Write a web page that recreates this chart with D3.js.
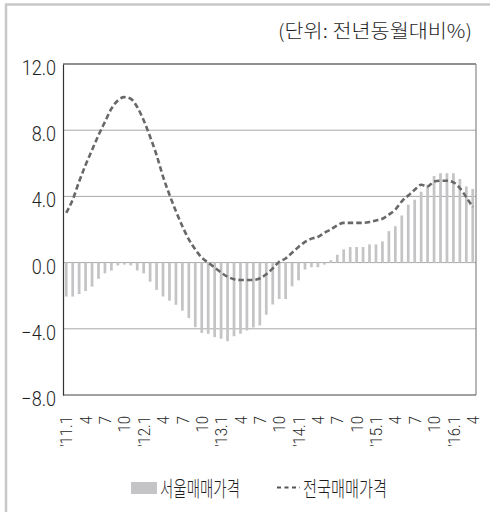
<!DOCTYPE html>
<html>
<head>
<meta charset="utf-8">
<script src="https://cdn.jsdelivr.net/npm/d3@7"></script>
<style>
  html, body { margin: 0; padding: 0; background: #fff; }
  svg { display: block; }
  .num { font-family: Roboto, "Liberation Sans Narrow", "DejaVu Sans Condensed", sans-serif; font-weight: 300; fill: #1e1e1e; }
  .kor { font-family: "Noto Sans CJK KR", "Noto Sans", sans-serif; font-weight: 300; fill: #1e1e1e; }
</style>
</head>
<body>
<svg id="chart" width="490" height="512"></svg>
<script>
// Monthly categories, Jan 2011 .. Apr 2016
const years = ["11", "12", "13", "14", "15", "16"];
const categories = years.flatMap(y => d3.range(1, 13).map(m => `'${y}.${m}`)).slice(0, 64);

// Seoul apartment sale price, YoY change (%)
const seoul = [
  -2.05, -2.05, -1.9, -1.72, -1.45, -0.98, -0.65, -0.48, -0.17, -0.12, -0.17, -0.48,
  -0.65, -1.15, -1.65, -2.05, -2.3, -2.55, -2.9, -3.35, -3.9, -4.25, -4.3, -4.5,
  -4.6, -4.75, -4.45, -4.3, -4.1, -3.92, -3.8, -3.15, -2.53, -2.2, -2.2, -1.43,
  -1.07, -0.42, -0.28, -0.28, -0.12, 0.14, 0.47, 0.8, 0.94, 0.94, 0.94, 1.1,
  1.1, 1.28, 1.9, 2.2, 2.85, 3.5, 3.8, 4.28, 4.7, 5.23, 5.4, 5.4,
  5.4, 5.05, 4.6, 4.45
];

// Nationwide apartment sale price, YoY change (%)
const nation = [
  3.0, 3.8, 4.9, 5.9, 6.8, 7.7, 8.5, 9.3, 9.8, 10.0, 9.9, 9.4,
  8.6, 7.6, 6.5, 5.2, 4.1, 3.1, 2.2, 1.4, 0.8, 0.3, 0.0, -0.3,
  -0.6, -0.85, -1.0, -1.05, -1.05, -1.05, -0.95, -0.7, -0.35, 0.05, 0.25, 0.6,
  0.95, 1.25, 1.45, 1.55, 1.8, 2.0, 2.25, 2.4, 2.4, 2.4, 2.4, 2.45,
  2.55, 2.65, 2.9, 3.2, 3.7, 4.05, 4.4, 4.7, 4.6, 4.9, 4.95, 4.95,
  4.85, 4.5, 3.95, 3.35
];

const yTicks = [-8, -4, 0, 4, 8, 12];
const gridValues = [-4, 0, 4, 8];
const xTickLabels = [
  "'11.1", "4", "7", "10", "'12.1", "4", "7", "10", "'13.1", "4", "7", "10",
  "'14.1", "4", "7", "10", "'15.1", "4", "7", "10", "'16.1", "4"
];
const unitLabel = "(단위: 전년동월대비%)";
const seriesNames = ["서울매매가격", "전국매매가격"];

const svg = d3.select("#chart");
const W = 490, H = 512;
const m = { left: 63, top: 64, right: 14, bottom: 117 };
const x0 = m.left, x1 = W - m.right, y0 = m.top, y1 = H - m.bottom;

const x = d3.scaleBand().domain(categories).range([x0, x1]).padding(0);
const y = d3.scaleLinear().domain([-8, 12]).range([y1, y0]);
const cx = d => x(d) + x.bandwidth() / 2;

// outer frame (left and top edges)
svg.append("path")
  .attr("d", `M6,${H} L6,4.5 L${W},4.5`)
  .attr("fill", "none").attr("stroke", "#c8c8c8").attr("stroke-width", 2.5);

// unit caption
svg.append("text").attr("class", "kor")
  .attr("x", 472).attr("y", 38)
  .attr("text-anchor", "end")
  .attr("font-size", 19)
  .attr("textLength", 194).attr("lengthAdjust", "spacingAndGlyphs")
  .text(unitLabel);

// horizontal gridlines
svg.append("g").selectAll("line").data(gridValues).join("line")
  .attr("x1", x0).attr("x2", x1)
  .attr("y1", d => y(d)).attr("y2", d => y(d))
  .attr("stroke", "#a8a8a8").attr("stroke-width", 1);

// Seoul bars
const bw = x.bandwidth() * 0.42;
svg.append("g").selectAll("rect").data(seoul).join("rect")
  .attr("x", (d, i) => cx(categories[i]) - bw / 2)
  .attr("width", bw)
  .attr("y", d => y(Math.max(0, d)))
  .attr("height", d => Math.abs(y(d) - y(0)))
  .attr("fill", "#c4c4c6");

// Nationwide dashed line
const line = d3.line()
  .x((d, i) => cx(categories[i]))
  .y(d => y(d))
  .curve(d3.curveMonotoneX);
svg.append("path").datum(nation)
  .attr("d", line)
  .attr("fill", "none")
  .attr("stroke", "#686868")
  .attr("stroke-width", 2.6)
  .attr("stroke-dasharray", "5.5,3");

// plot borders
svg.append("line").attr("x1", x0).attr("x2", x1).attr("y1", y0).attr("y2", y0)
  .attr("stroke", "#222").attr("stroke-width", 1.2);
svg.append("line").attr("x1", x1).attr("x2", x1).attr("y1", y0).attr("y2", y1)
  .attr("stroke", "#888").attr("stroke-width", 1.2);
svg.append("line").attr("x1", x0).attr("x2", x1).attr("y1", y1).attr("y2", y1)
  .attr("stroke", "#444").attr("stroke-width", 1.2);

// y axis (narrowed numerals)
const yAxis = svg.append("g")
  .attr("transform", `translate(${x0},0)`)
  .call(d3.axisLeft(y).tickValues(yTicks).tickFormat(d3.format(".1f")).tickSize(0));
yAxis.select(".domain").attr("stroke", "#333").attr("stroke-width", 1.2);
yAxis.selectAll("text")
  .attr("class", "num").attr("font-size", 21)
  .attr("x", 0).attr("dy", "0.5em")
  .attr("transform", "translate(-7,0) scale(0.86,1)");

// x axis (rotated month labels)
const tickCats = categories.filter((d, i) => i % 3 === 0);
const xAxis = svg.append("g")
  .attr("transform", `translate(0,${y1})`)
  .call(d3.axisBottom(x).tickValues(tickCats).tickFormat((d, i) => xTickLabels[i]).tickSize(0));
xAxis.select(".domain").remove();
xAxis.selectAll("text")
  .attr("class", "num")
  .attr("font-size", 17)
  .attr("transform", "rotate(-90) translate(-21,0) scale(0.88,1)")
  .attr("x", 0).attr("y", 0).attr("dy", "0.36em")
  .style("text-anchor", "end");

// legend
const lg = svg.append("g");
lg.append("rect").attr("x", 131).attr("y", 482).attr("width", 26).attr("height", 12).attr("fill", "#c4c4c6");
lg.append("text").attr("class", "kor").attr("x", 160).attr("y", 495.5)
  .attr("font-size", 21).attr("textLength", 80).attr("lengthAdjust", "spacingAndGlyphs")
  .text(seriesNames[0]);
lg.append("line").attr("x1", 277).attr("x2", 300).attr("y1", 487.5).attr("y2", 487.5)
  .attr("stroke", "#555").attr("stroke-width", 2).attr("stroke-dasharray", "4,3.5");
lg.append("text").attr("class", "kor").attr("x", 303).attr("y", 495.5)
  .attr("font-size", 21).attr("textLength", 84).attr("lengthAdjust", "spacingAndGlyphs")
  .text(seriesNames[1]);
</script>
</body>
</html>
